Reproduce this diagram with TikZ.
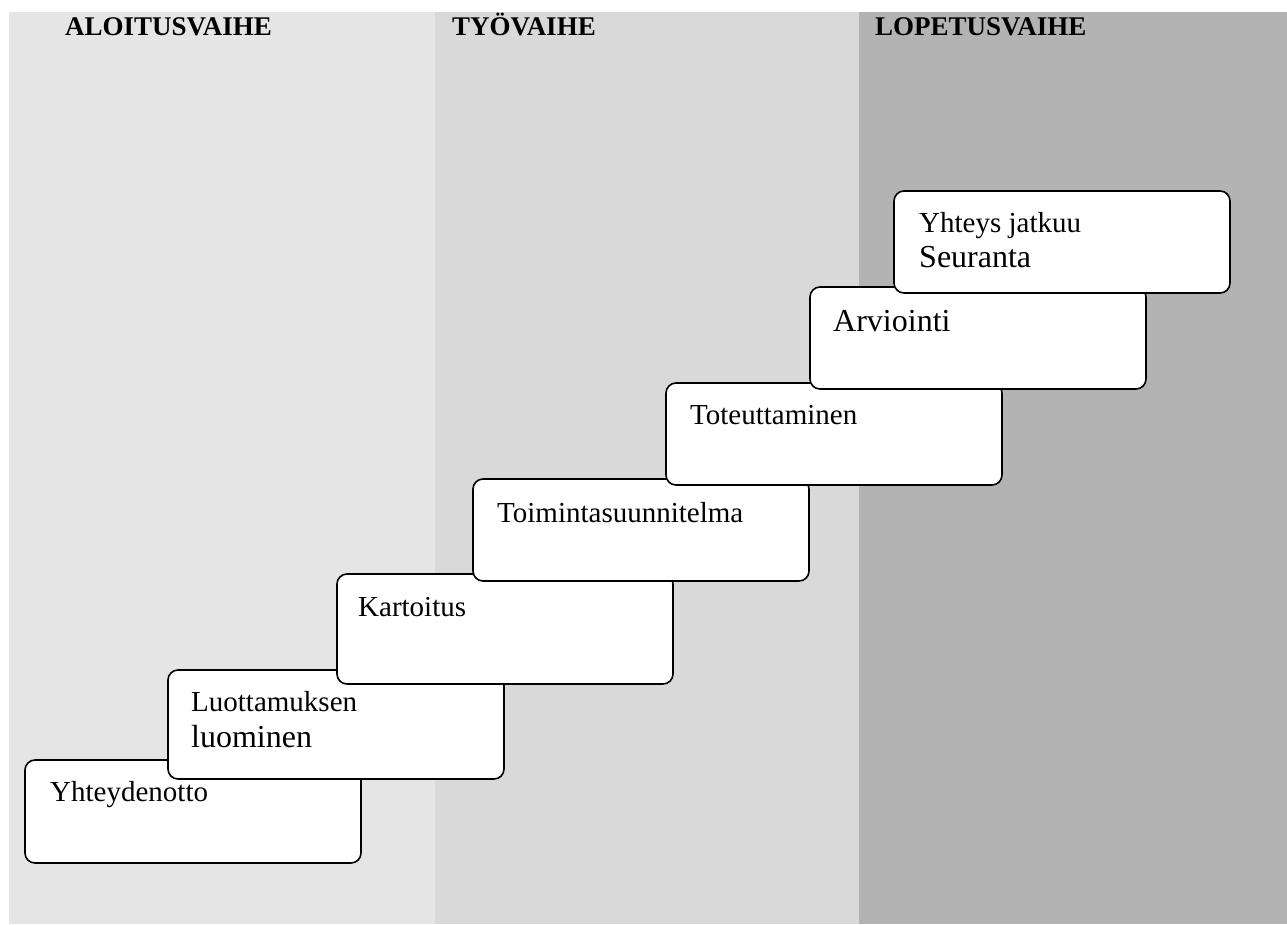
\documentclass[tikz,border=0pt]{standalone}
\usepackage{fontspec}
\setmainfont{Liberation Serif}
\definecolor{phaseA}{HTML}{E5E5E5}
\definecolor{phaseB}{HTML}{D9D9D9}
\definecolor{phaseC}{HTML}{B3B3B3}
\begin{document}
\begin{tikzpicture}[x=1pt,y=-1pt,
  stage/.style={draw=black, line width=1.6pt, fill=white, rounded corners=10pt,
    minimum width=336pt, anchor=north west, inner sep=0pt, outer sep=0pt},
  lbl/.style={anchor=base west, inner sep=0pt, font=\fontsize{29}{35}\selectfont},
  lblbig/.style={anchor=base west, inner sep=0pt, font=\fontsize{32}{38}\selectfont},
  head/.style={anchor=base west, inner sep=0pt, font=\bfseries\fontsize{27}{32}\selectfont}]
\useasboundingbox (0,0) rectangle (1287,924);

% phase columns
\fill[phaseA] (9,12) rectangle (435,924);
\fill[phaseB] (435,12) rectangle (859,924);
\fill[phaseC] (859,12) rectangle (1287,924);

% phase headings
\node[head] (hA) at (65,35) {ALOITUSVAIHE};
\node[head] (hB) at (452,35) {TYÖVAIHE};
\node[head] (hC) at (875,35) {LOPETUSVAIHE};

% staircase of stages, each drawn over the previous one
\node[stage, minimum height=103pt] (s1) at (25,760) {};
\node[lbl] (t1) at ([xshift=25pt,yshift=-41pt]s1.north west) {Yhteydenotto};

\node[stage, minimum height=109pt] (s2) at (168,670) {};
\node[lbl] (t2a) at ([xshift=23pt,yshift=-41pt]s2.north west) {Luottamuksen};
\node[lblbig] (t2b) at ([xshift=23pt,yshift=-77pt]s2.north west) {luominen};

\node[stage, minimum height=110pt] (s3) at (337,574) {};
\node[lbl] (t3) at ([xshift=21pt,yshift=-42pt]s3.north west) {Kartoitus};

\node[stage, minimum height=102pt] (s4) at (473,479) {};
\node[lbl] (t4) at ([xshift=24pt,yshift=-43pt]s4.north west) {Toimintasuunnitelma};

\node[stage, minimum height=102pt] (s5) at (666,383) {};
\node[lbl] (t5) at ([xshift=24pt,yshift=-41pt]s5.north west) {Toteuttaminen};

\node[stage, minimum height=102pt] (s6) at (810,287) {};
\node[lblbig] (t6) at ([xshift=23pt,yshift=-44pt]s6.north west) {Arviointi};

\node[stage, minimum height=102pt] (s7) at (894,191) {};
\node[lbl] (t7a) at ([xshift=25pt,yshift=-41pt]s7.north west) {Yhteys jatkuu};
\node[lblbig] (t7b) at ([xshift=25pt,yshift=-76pt]s7.north west) {Seuranta};
\end{tikzpicture}
\end{document}
